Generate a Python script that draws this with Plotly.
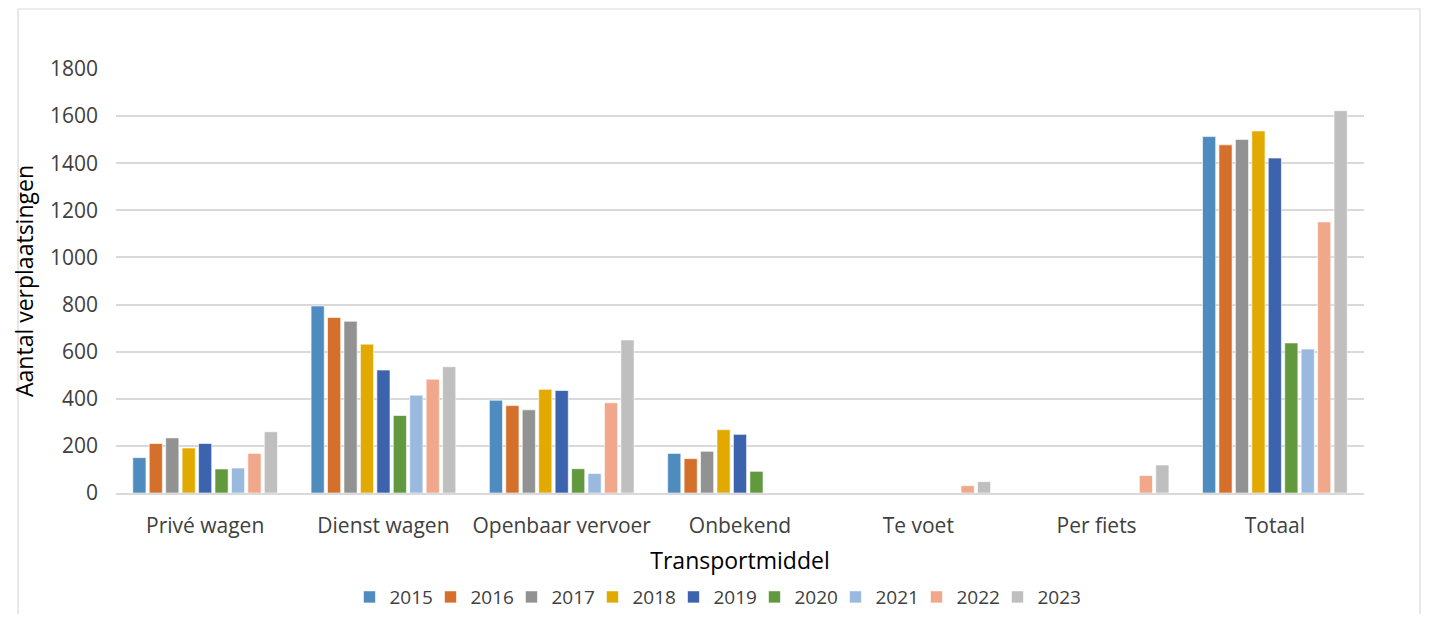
import plotly.graph_objects as go

categories = ["Privé wagen", "Dienst wagen", "Openbaar vervoer", "Onbekend", "Te voet", "Per fiets", "Totaal"]
years = ["2015", "2016", "2017", "2018", "2019", "2020", "2021", "2022", "2023"]

v2015 = [150, 794, 394, 168, 0, 0, 1513]
v2016 = [210, 745, 371, 146, 0, 0, 1478]
v2017 = [234, 729, 353, 177, 0, 0, 1501]
v2018 = [191, 632, 440, 269, 0, 0, 1537]
v2019 = [210, 522, 435, 249, 0, 0, 1422]
v2020 = [102, 329, 103, 92, 0, 0, 637]
v2021 = [106, 415, 83, 0, 0, 0, 611]
v2022 = [168, 483, 383, 0, 31, 74, 1151]
v2023 = [260, 536, 650, 0, 48, 119, 1623]

series = [v2015, v2016, v2017, v2018, v2019, v2020, v2021, v2022, v2023]
colors = ["#4E8BBE", "#D4702B", "#929292", "#E2AA00", "#3C64AE",
          "#62993E", "#99B9DF", "#F1A78A", "#BFBFBF"]

FONT = "'Open Sans', 'Noto Sans', sans-serif"

fig = go.Figure()
for y, vals, c in zip(years, series, colors):
    fig.add_trace(go.Bar(
        name=y, x=categories, y=vals,
        marker=dict(color=c, line=dict(color="rgba(255,255,255,0.6)", width=1)),
    ))

# invisible spacer legend entry so the last legend label is not clipped
fig.add_trace(go.Scatter(
    x=[None], y=[None], mode="markers", name=" ",
    marker=dict(color="rgba(0,0,0,0)"), hoverinfo="skip", showlegend=True,
))

# page body has an 8px margin: figure origin sits at (8, 8)
fig.update_layout(
    width=1413, height=606,
    paper_bgcolor="white", plot_bgcolor="white",
    margin=dict(l=108, r=57, t=61, b=121, autoexpand=False),
    barmode="group", bargap=0.17, bargroupgap=0.2,
    font=dict(family=FONT, size=18, color="#404040"),
    showlegend=True,
    legend=dict(orientation="h", x=0.5116, xanchor="center",
                yref="container", y=0.028, yanchor="middle",
                font=dict(size=19, color="#404040"), itemwidth=30,
                entrywidth=36, entrywidthmode="pixels", traceorder="normal"),
    xaxis=dict(
        showgrid=False, showline=True, linecolor="#D9D9D9", linewidth=1.5,
        ticks="", tickfont=dict(size=21, color="#404040"), ticklabelstandoff=13,
        automargin=False,
        title=dict(text="Transportmiddel", font=dict(size=23, color="#000000"), standoff=15),
    ),
    yaxis=dict(
        range=[0, 1800], tickvals=list(range(0, 1801, 200)),
        showgrid=True, gridcolor="#D9D9D9", gridwidth=1.5,
        zeroline=False, showline=False, ticks="", ticklabelstandoff=17,
        automargin=False,
        tickfont=dict(size=21, color="#404040"),
        title=dict(text="Aantal verplaatsingen", font=dict(size=23, color="#000000"), standoff=10),
    ),
    shapes=[dict(type="rect", xref="paper", yref="paper",
                 x0=-0.0785, x1=1.0449, y0=-0.33, y1=1.1415,
                 line=dict(color="#D9D9D9", width=1.2), fillcolor="rgba(0,0,0,0)", layer="below")],
)

fig.write_html("out.html")
